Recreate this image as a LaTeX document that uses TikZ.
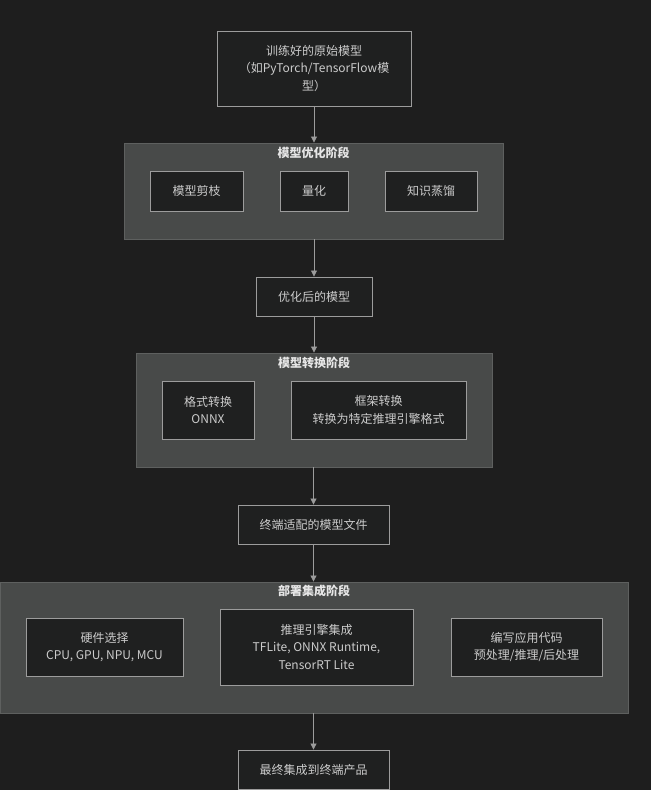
\documentclass[tikz,border=0pt]{standalone}
\usepackage{fontspec}
\setmainfont{Noto Sans CJK SC}
\usetikzlibrary{arrows.meta, positioning}
\definecolor{bgdark}{HTML}{1E1E1E}
\definecolor{boxfill}{HTML}{1F2020}
\definecolor{boxline}{HTML}{9C9C9C}
\definecolor{grpfill}{HTML}{484A49}
\definecolor{grpline}{HTML}{5E605F}
\definecolor{txtgray}{HTML}{CCCCCC}
\definecolor{ttlgray}{HTML}{E6E6E6}

\begin{document}
\begin{tikzpicture}[x=1pt, y=1pt,
  pbox/.style={draw=boxline, fill=boxfill, line width=0.9pt, inner sep=0pt, align=center, text=txtgray, font=\fontsize{12}{17.5}\selectfont},
  grp/.style={draw=grpline, fill=grpfill, line width=0.9pt, inner sep=0pt},
  gtitle/.style={text=ttlgray, font=\fontsize{12}{14}\selectfont\bfseries, inner sep=0pt},
  arr/.style={draw=boxline, line width=0.8pt, -{Triangle[length=6pt, width=6pt]}}
]
  \fill[bgdark] (0,0) rectangle (651,-790);
  \useasboundingbox (0,0) rectangle (651,-790);

  % raw model
  \node[pbox, minimum width=194, minimum height=75] (raw) at (314,-68.5) {训练好的原始模型\\（如PyTorch/TensorFlow模\\型）};

  % optimisation stage
  \node[grp, minimum width=379, minimum height=96] (optgrp) at (313.5,-191) {};
  \node[gtitle] (opttitle) at (313.5,-153) {模型优化阶段};
  \node[pbox, minimum width=93, minimum height=40] (prune) at (196.5,-191) {模型剪枝};
  \node[pbox, minimum width=68, minimum height=40] (quant) at (314,-191) {量化};
  \node[pbox, minimum width=92, minimum height=40] (distill) at (431,-191) {知识蒸馏};

  \node[pbox, minimum width=116, minimum height=39] (optmodel) at (314,-296.5) {优化后的模型};

  % conversion stage
  \node[grp, minimum width=356, minimum height=114] (convgrp) at (314,-410) {};
  \node[gtitle] (convtitle) at (314,-363) {模型转换阶段};
  \node[pbox, minimum width=92, minimum height=58] (onnx) at (208,-410) {格式转换\\ONNX};
  \node[pbox, minimum width=175, minimum height=58] (frame) at (378.5,-410) {框架转换\\转换为特定推理引擎格式};

  \node[pbox, minimum width=151, minimum height=39] (devfile) at (313.5,-524.5) {终端适配的模型文件};

  % deployment stage
  \node[grp, minimum width=628, minimum height=131] (depgrp) at (314,-647.5) {};
  \node[gtitle] (deptitle) at (314,-591) {部署集成阶段};
  \node[pbox, minimum width=157, minimum height=58] (hw) at (104.5,-647) {硬件选择\\CPU, GPU, NPU, MCU};
  \node[pbox, minimum width=193, minimum height=76] (engine) at (316.5,-647) {推理引擎集成\\TFLite, ONNX Runtime,\\TensorRT Lite};
  \node[pbox, minimum width=151, minimum height=58] (app) at (526.5,-647) {编写应用代码\\预处理/推理/后处理};

  \node[pbox, minimum width=151, minimum height=39] (final) at (313.5,-769.5) {最终集成到终端产品};

  % flow
  \draw[arr] (raw.south) -- (raw.south |- optgrp.north);
  \draw[arr] (optgrp.south -| optmodel) -- (optmodel.north);
  \draw[arr] (optmodel.south) -- (optmodel.south |- convgrp.north);
  \draw[arr] (convgrp.south -| devfile) -- (devfile.north);
  \draw[arr] (devfile.south) -- (devfile.south |- depgrp.north);
  \draw[arr] (depgrp.south -| final) -- (final.north);
\end{tikzpicture}
\end{document}
